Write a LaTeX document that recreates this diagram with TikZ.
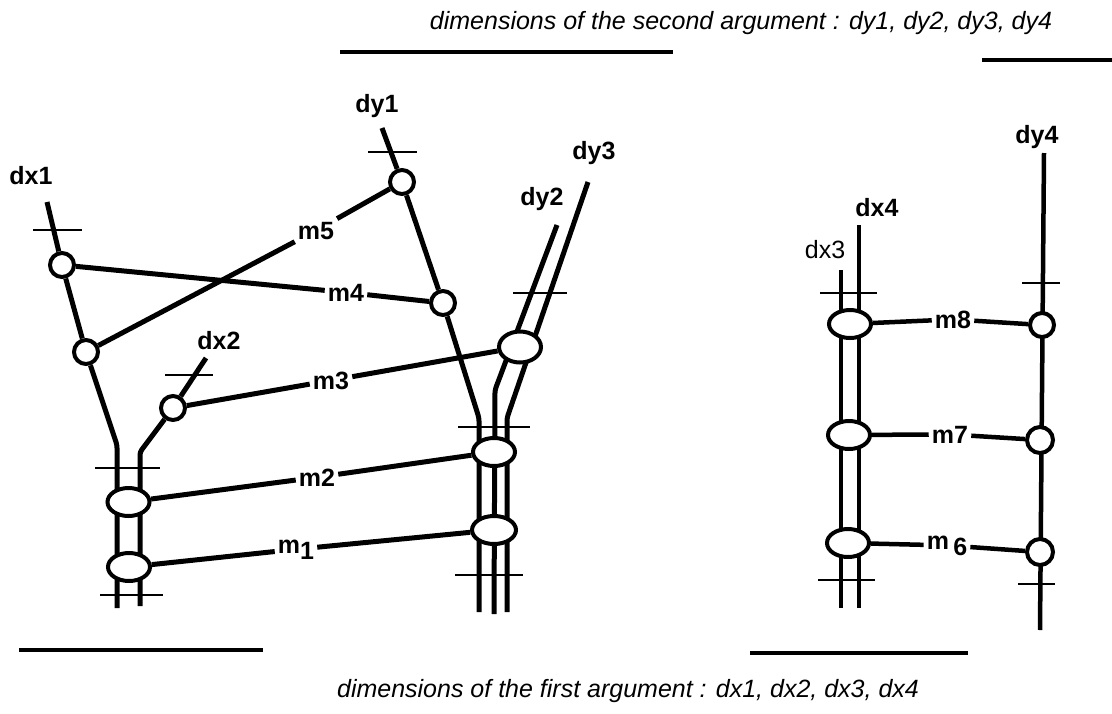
\documentclass[tikz,border=0pt]{standalone}
\usepackage{fontspec}
\setmainfont{Liberation Sans}
\usetikzlibrary{shapes.geometric,backgrounds}

\begin{document}
\begin{tikzpicture}[x=1pt,y=-1pt,
  joint/.style={circle,draw,fill=white,line width=4pt,minimum size=24pt,inner sep=0pt},
  bundle/.style={ellipse,draw,fill=white,line width=4pt,minimum width=42pt,minimum height=28pt,inner sep=0pt},
  wire/.style={line width=5pt,line join=round,rounded corners=3pt},
  thinwire/.style={line width=4.5pt,line join=round},
  tick/.style={line width=2.5pt},
  rule/.style={line width=3.5pt},
  lab/.style={font=\fontsize{25}{25}\selectfont\bfseries,inner sep=3pt,anchor=base},
  lablight/.style={font=\fontsize{25}{25}\selectfont,inner sep=3pt,anchor=base},
  caption/.style={font=\fontsize{25}{25}\selectfont\itshape,inner sep=0pt,anchor=base},
]
\useasboundingbox (0,0) rectangle (1112,713);

% captions and rules
\node[caption] (capy) at (741,29) {dimensions of the second argument : dy1, dy2, dy3, dy4};
\node[caption] (capx) at (628,697) {dimensions of the first argument : dx1, dx2, dx3, dx4};
\coordinate (ry1a) at (340,52);  \coordinate (ry1b) at (673,52);
\coordinate (ry2a) at (982,60);  \coordinate (ry2b) at (1112,60);
\coordinate (rx1a) at (19,650);  \coordinate (rx1b) at (263,650);
\coordinate (rx2a) at (750,653); \coordinate (rx2b) at (968,653);
\draw[rule] (ry1a) -- (ry1b);
\draw[rule] (ry2a) -- (ry2b);
\draw[rule] (rx1a) -- (rx1b);
\draw[rule] (rx2a) -- (rx2b);

% ---------- first argument, left tree ----------
\node[joint]  (A)  at (62,265) {};
\node[joint]  (B)  at (86,352) {};
\node[joint]  (C)  at (173,408) {};
\node[bundle] (L2) at (128.5,502) {};
\node[bundle] (L1) at (129,567) {};
\node[lab] (tdx1) at (31,184) {dx1};
\node[lab] (tdx2) at (219,349) {dx2};

% ---------- second argument, middle tree ----------
\node[joint]  (D)  at (402,182) {};
\node[joint]  (F)  at (443,303) {};
\node[bundle,minimum height=31pt] (G)  at (520,347) {};
\node[bundle] (M2) at (494,452) {};
\node[bundle,minimum width=44pt] (M1) at (494,530) {};
\node[lab] (tdy1) at (377,112) {dy1};
\node[lab] (tdy2) at (542,205) {dy2};
\node[lab] (tdy3) at (594,159) {dy3};

% ---------- right pair ----------
\node[bundle] (R8) at (850,324) {};
\node[bundle] (R7) at (849,435) {};
\node[bundle] (R6) at (848,543) {};
\node[joint]  (S8) at (1042,325) {};
\node[joint,minimum size=26pt]  (S7) at (1040,440) {};
\node[joint,minimum size=26pt]  (S6) at (1040,552) {};
\node[lablight] (tdx3) at (825,258) {dx3};
\node[lab] (tdx4) at (877,216) {dx4};
\node[lab] (tdy4) at (1037,143) {dy4};

% link labels
\node[lab] (m5) at (316,239) {m5};
\node[lab] (m4) at (346,301) {m4};
\node[lab] (m3) at (331,389) {m3};
\node[lab] (m2) at (317,486) {m2};
\node[lab] (m1) at (296,553) {m\raisebox{-6pt}{1}};
\node[lab] (m8) at (953,328) {m8};
\node[lab] (m7) at (950,443) {m7};
\node[lab] (m6) at (947,549) {m\,\raisebox{-6pt}{6}};

% free ends of the dimension lines
\coordinate (x1top) at (47,202);
\coordinate (x1bend) at (117,445);
\coordinate (x1bot) at (117,608);
\coordinate (x2top) at (206,358);
\coordinate (x2bend) at (140,452);
\coordinate (x2bot) at (140,606);
\coordinate (y1top) at (382,128);
\coordinate (y1bend) at (479,418);
\coordinate (y1bot) at (479,612);
\coordinate (y2top) at (557,225);
\coordinate (y2bend) at (495,390);
\coordinate (y2bot) at (494,614);
\coordinate (y3top) at (588,182);
\coordinate (y3bend) at (507,418);
\coordinate (y3bot) at (507,612);
\coordinate (x3top) at (841,270);
\coordinate (x3bot) at (841,608);
\coordinate (x4top) at (859,225);
\coordinate (x4bot) at (859,608);
\coordinate (y4top) at (1044,153);
\coordinate (y4bot) at (1040,630);

\begin{scope}[on background layer]
  % dimension lines of the first argument
  \draw[wire] (x1top) -- (A) -- (B) -- (x1bend) -- (x1bot);
  \draw[wire] (x2top) -- (C) -- (x2bend) -- (x2bot);
  % dimension lines of the second argument
  \draw[wire] (y1top) -- (D) -- (F) -- (y1bend) -- (y1bot);
  \draw[wire] (y2top) -- (y2bend) -- (y2bot);
  \draw[wire] (y3top) -- (y3bend) -- (y3bot);
  % right pair
  \draw[thinwire] (x3top) -- (x3bot);
  \draw[thinwire] (x4top) -- (x4bot);
  \draw[thinwire] (y4top) -- (y4bot);

  % ticks
  \draw[tick] (33,230) -- (82,230);
  \draw[tick] (165,375) -- (213,375);
  \draw[tick] (95,468) -- (160,468);
  \draw[tick] (100,595) -- (163,595);
  \draw[tick] (368,152) -- (417,152);
  \draw[tick] (513,293) -- (567,293);
  \draw[tick] (458,427) -- (530,427);
  \draw[tick] (455,575) -- (523,575);
  \draw[tick] (820,293) -- (877,293);
  \draw[tick] (818,580) -- (875,580);
  \draw[tick] (1022,283) -- (1060,283);
  \draw[tick] (1018,584) -- (1055,584);

  % links between dimensions
  \draw[wire] (B) -- (m5) -- (D);
  \draw[wire] (A) -- (m4) -- (F);
  \draw[wire] (C) -- (m3) -- (G);
  \draw[wire] (L2) -- (m2) -- (M2);
  \draw[wire] (L1) -- (m1) -- (M1);
  \draw[thinwire] (R8) -- (m8) -- (S8);
  \draw[thinwire] (R7) -- (m7) -- (S7);
  \draw[thinwire] (R6) -- (m6) -- (S6);
\end{scope}
\end{tikzpicture}
\end{document}
